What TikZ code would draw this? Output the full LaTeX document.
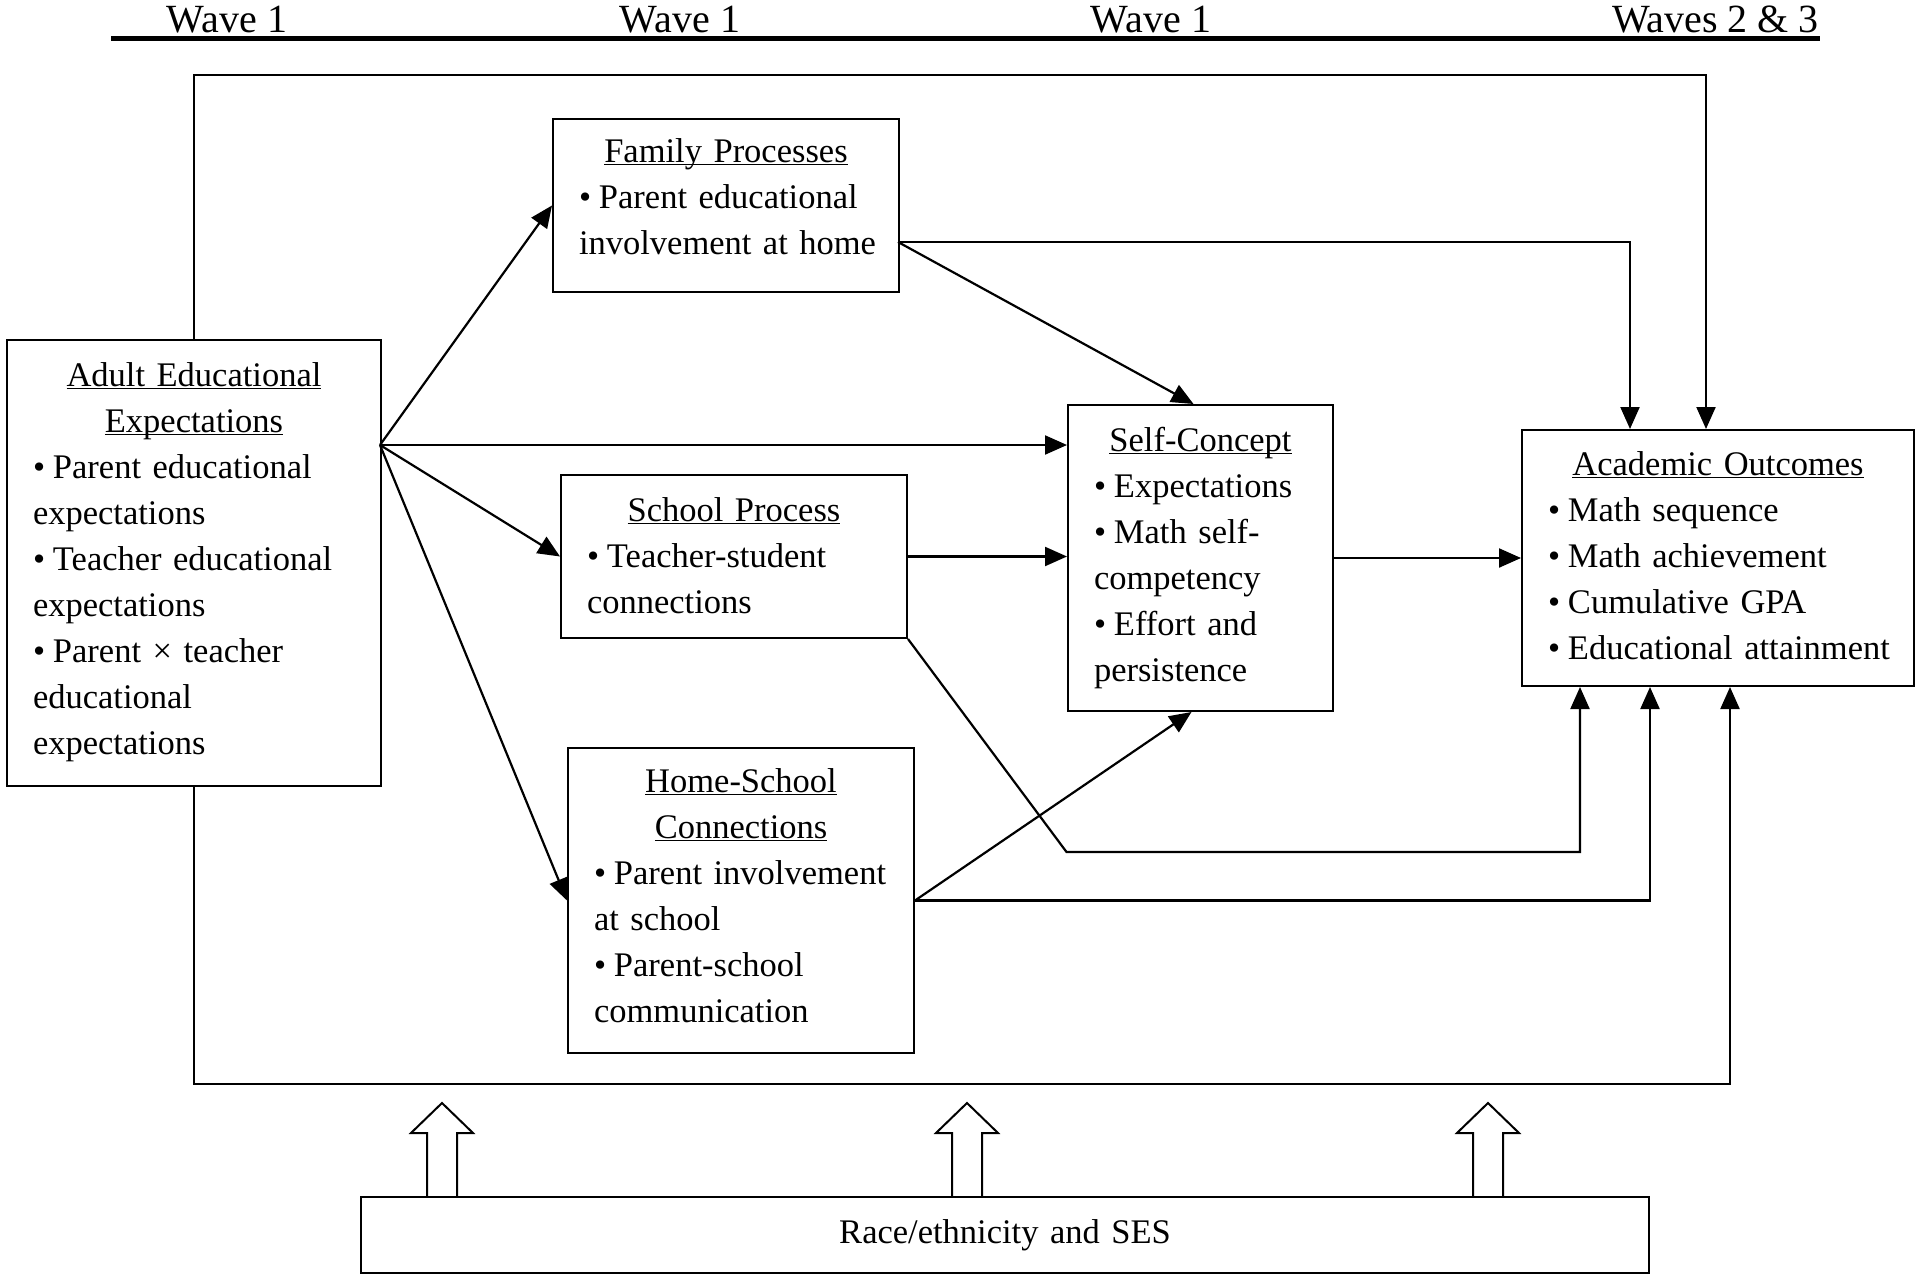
\documentclass[tikz,border=0pt]{standalone}
\usepackage{fontspec}
\setmainfont{Liberation Serif}
\usetikzlibrary{arrows.meta}
\newcommand\hd[1]{\noindent\makebox[\hsize][c]{\underline{\raisebox{0pt}[\height][0pt]{#1}}}}
\newcommand\bu[1]{\mbox{•\hspace{0.23em}#1}}
\newcommand\ct[1]{\mbox{#1}}
\newcommand\lift[1]{\rule[-#1pt]{0pt}{0pt}}
\begin{document}
\begin{tikzpicture}[x=1pt,y=-1pt,
  box/.style={draw,line width=2pt,inner xsep=26pt,inner ysep=0pt,align=left,anchor=north west,
    font=\fontsize{34.5}{46}\selectfont},
  conn/.style={line width=2.2pt,-{Triangle[length=22pt,width=19pt]}},
  hollow/.style={draw,line width=2pt},
  wave/.style={font=\fontsize{40}{48}\selectfont,anchor=base,inner sep=0pt}]

\useasboundingbox (0,0) rectangle (1920,1279);

% header
\draw[line width=5pt] (111,39) -- (1820,39);
\node[wave] (w1) at (227,33) {Wave 1};
\node[wave] (w2) at (680,33) {Wave 1};
\node[wave] (w3) at (1151,33) {Wave 1};
\node[wave,anchor=base east] (w4) at (1819,33) {Waves 2 \& 3};

% boxes
\node[box,text width=322pt,minimum width=374pt,minimum height=446pt] (ad) at (6,339)
  {\hd{Adult Educational}\\ \hd{Expectations}\\ \bu{Parent educational}\\ \ct{expectations}\\
   \bu{Teacher educational}\\ \ct{expectations}\\ \bu{Parent × teacher}\\ \ct{educational}\\ \ct{expectations}\lift{9}};
\node[box,text width=294pt,minimum width=346pt,minimum height=173pt] (fam) at (552,118)
  {\hd{Family Processes}\\ \bu{Parent educational}\\ \ct{involvement at home}\lift{17}};
\node[box,text width=294pt,minimum width=346pt,minimum height=163pt] (sch) at (560,474)
  {\hd{School Process}\\ \bu{Teacher-student}\\ \ct{connections}\lift{2}};
\node[box,text width=294pt,minimum width=346pt,minimum height=305pt] (hs) at (567,747)
  {\hd{Home-School}\\ \hd{Connections}\\ \bu{Parent involvement}\\ \ct{at school}\\ \bu{Parent-school}\\ \ct{communication}\lift{10}};
\node[box,text width=213pt,minimum width=265pt,minimum height=306pt] (sc) at (1067,404)
  {\hd{Self-Concept}\\ \bu{Expectations}\\ \bu{Math self-}\\ \ct{competency}\\ \bu{Effort and}\\ \ct{persistence}};
\node[box,text width=340pt,minimum width=392pt,minimum height=256pt] (ao) at (1521,429)
  {\hd{Academic Outcomes}\\ \bu{Math sequence}\\ \bu{Math achievement}\\ \bu{Cumulative GPA}\\ \bu{Educational attainment}\lift{5}};
\node[box,align=center,text width=1236pt,minimum width=1288pt,minimum height=76pt] (race) at (360,1196)
  {Race/ethnicity and SES};

% connectors
\coordinate (fan) at (380,445);
\draw[conn] (fan) -- (fam.west);
\draw[conn] (fan) -- (fan -| sc.west);
\draw[conn] (fan) -- (sch.west);
\draw[conn] (fan) -- (hs.west);

\coordinate (fe) at (898,242);
\draw[conn] (fe) -- ([xshift=-7pt]sc.north);
\draw[conn] (fe) -| ([xshift=109pt]ao.north west);

\coordinate (t1) at (1706,75);
\draw[conn] (ad.north) |- (t1) -- (t1 |- ao.north);
\coordinate (b1) at (1730,1084);
\draw[conn] (ad.south) |- (b1) -- (b1 |- ao.south);

\draw[conn] (sch.east) -- (sch.east -| sc.west);
\coordinate (s1) at (1066.5,852);
\draw[conn] (sch.south east) -- (s1) -| ([xshift=59pt]ao.south west);
\draw[conn] (hs.east) -- ([xshift=-9pt]sc.south);
\draw[conn] (hs.east) -| ([xshift=129pt]ao.south west);
\draw[conn] (sc.east) -- (ao.west);

% hollow arrows
\foreach \cx in {442,967,1488}{
  \draw[hollow] ({\cx-15},1196) -- ({\cx-15},1133) -- ({\cx-31},1133) -- (\cx,1103)
    -- ({\cx+31},1133) -- ({\cx+15},1133) -- ({\cx+15},1196);
}
\end{tikzpicture}
\end{document}
